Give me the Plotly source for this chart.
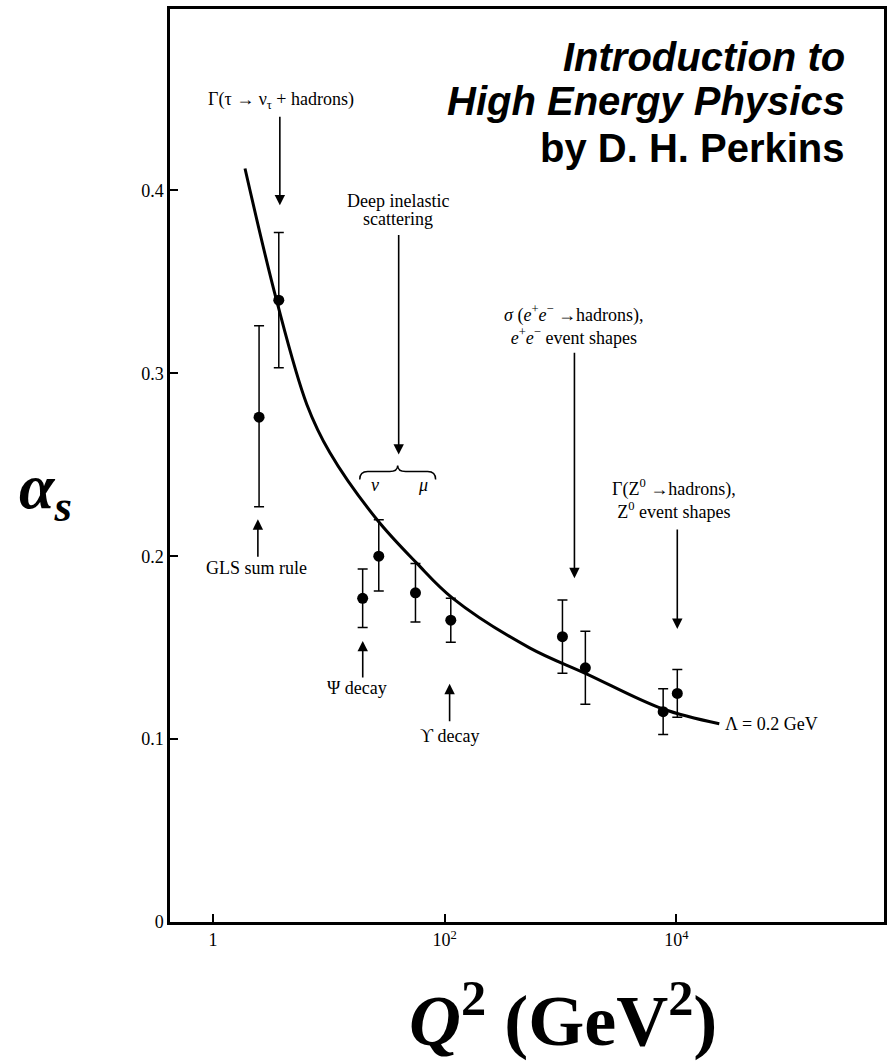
import plotly.graph_objects as go

# ---------------- data ----------------
point_names = ["GLS sum rule", "tau decay", "Psi decay", "DIS nu", "DIS mu",
               "Upsilon decay", "e+e- (1)", "e+e- (2)", "Z0 (1)", "Z0 (2)"]
point_q2 = [2.5, 3.7, 19.6, 27, 56, 113, 1040, 1640, 7700, 10200]
point_alpha = [0.276, 0.340, 0.177, 0.200, 0.180, 0.165, 0.156, 0.139, 0.115, 0.125]
err_plus = [0.050, 0.037, 0.016, 0.020, 0.016, 0.012, 0.020, 0.020, 0.0125, 0.013]
err_minus = [0.049, 0.037, 0.016, 0.019, 0.016, 0.012, 0.020, 0.020, 0.0125, 0.013]

curve_q2 = [1.89, 3.57, 6.46, 10.2, 25.9, 57.4, 117, 541, 1675, 7570, 23500]
curve_alpha = [0.412, 0.339, 0.283, 0.2567, 0.2202, 0.1962, 0.1771,
               0.1499, 0.1357, 0.1166, 0.1084]

x_tickvals = [1, 100, 10000]
x_ticktext = ["1", "10<sup>2</sup>", "10<sup>4</sup>"]
y_tickvals = [0, 0.1, 0.2, 0.3, 0.4]
y_ticktext = ["0", "0.1", "0.2", "0.3", "0.4"]

# ---------------- layout helpers ----------------
W, H = 893, 1061
ML, MR, MT, MB = 170, 8, 6, 139
PW, PH = W - ML - MR, H - MT - MB


def P(px, py):
    """reference pixel -> paper coordinates (for labels/decorations)"""
    return (px - ML) / PW, (H - MB - py) / PH


SERIF = "Liberation Serif, DejaVu Serif, serif"
SANS = "Liberation Sans"

fig = go.Figure()

fig.add_trace(go.Scatter(
    x=curve_q2, y=curve_alpha, mode="lines",
    line=dict(color="black", width=3, shape="spline", smoothing=1.0),
    hoverinfo="skip", showlegend=False))

fig.add_trace(go.Scatter(
    x=point_q2, y=point_alpha, mode="markers", text=point_names,
    marker=dict(color="black", size=11),
    error_y=dict(type="data", array=err_plus, arrayminus=err_minus,
                 color="black", thickness=1.5, width=5),
    showlegend=False))

ann = []


def text(px, py, s, size=18, xanchor="center", font=SERIF, color="black"):
    x, y = P(px, py)
    ann.append(dict(x=x, y=y, xref="paper", yref="paper", text=s, showarrow=False,
                    xanchor=xanchor, yanchor="middle",
                    font=dict(family=font, size=size, color=color)))


def arrow(px, py_tip, py_tail):
    x, y = P(px, py_tip)
    ann.append(dict(x=x, y=y, xref="paper", yref="paper", text="", showarrow=True,
                    ax=0, ay=py_tail - py_tip, axref="pixel", ayref="pixel",
                    arrowhead=2, arrowsize=1.3, arrowwidth=1.6, arrowcolor="black"))


# labels
text(281, 98, "Γ(τ → ν<sub>τ</sub> + hadrons)")
text(398, 199, "Deep inelastic")
text(398, 217, "scattering")
text(375, 484, "<i>ν</i>")
text(423, 484, "<i>μ</i>")
text(257, 567, "GLS sum rule")
text(357, 687, "Ψ decay")
text(450, 735, "ϒ decay")
text(575, 323, "<i>σ</i> (<i>e</i><sup>+</sup><i>e</i><sup>−</sup> →hadrons),<br>"
               "<i>e</i><sup>+</sup><i>e</i><sup>−</sup> event shapes")
text(675, 498, "Γ(Z<sup>0</sup> →hadrons),<br>Z<sup>0</sup> event shapes")
text(724, 723, "Λ = 0.2 GeV", xanchor="left")

# arrows
arrow(280, 203, 113)
arrow(399, 453, 232)
arrow(258, 518, 557)
arrow(363, 640, 678)
arrow(450, 683, 722)
arrow(575, 577, 350)
arrow(678, 628, 527)

# book title
text(848, 54, "<b><i>Introduction to</i></b>", size=40, xanchor="right", font=SANS)
text(848, 98, "<b><i>High Energy Physics</i></b>", size=40, xanchor="right", font=SANS)
text(848, 145, "<b>by D. H. Perkins</b>", size=40, xanchor="right", font=SANS)

# big axis titles
text(45, 490, "<b><i>α<sub>s</sub></i></b>", size=64)
text(564, 1016, "<b><i>Q</i><sup>2</sup> (GeV<sup>2</sup>)</b>", size=72)

# brace over nu / mu
bp = [(360, 478), (360, 470), (368, 470), (390, 470), (398, 470), (398, 464),
      (398, 470), (406, 470), (428, 470), (436, 470), (436, 478)]
q = [P(*p) for p in bp]
path = (f"M {q[0][0]},{q[0][1]} Q {q[1][0]},{q[1][1]} {q[2][0]},{q[2][1]} "
        f"L {q[3][0]},{q[3][1]} Q {q[4][0]},{q[4][1]} {q[5][0]},{q[5][1]} "
        f"Q {q[6][0]},{q[6][1]} {q[7][0]},{q[7][1]} L {q[8][0]},{q[8][1]} "
        f"Q {q[9][0]},{q[9][1]} {q[10][0]},{q[10][1]}")
shapes = [dict(type="path", path=path, xref="paper", yref="paper",
               line=dict(color="black", width=1.5))]

fig.update_layout(
    width=W, height=H,
    margin=dict(l=ML, r=MR, t=MT, b=MB, pad=0),
    paper_bgcolor="white", plot_bgcolor="white",
    annotations=ann, shapes=shapes,
    xaxis=dict(type="log", range=[-0.371, 5.793], tickvals=x_tickvals,
               ticktext=x_ticktext, ticks="inside", ticklen=8, tickwidth=1.5,
               tickcolor="black", showline=True, mirror=True, linewidth=2.5,
               linecolor="black", showgrid=False, zeroline=False,
               tickfont=dict(family=SERIF, size=18, color="black")),
    yaxis=dict(range=[0, 0.4992], tickvals=y_tickvals, ticktext=y_ticktext,
               ticks="inside", ticklen=8, tickwidth=2, tickcolor="black",
               showline=True, mirror=True, linewidth=2.5, linecolor="black",
               showgrid=False, zeroline=False,
               tickfont=dict(family=SERIF, size=18, color="black")),
)

fig.write_html("out.html")
